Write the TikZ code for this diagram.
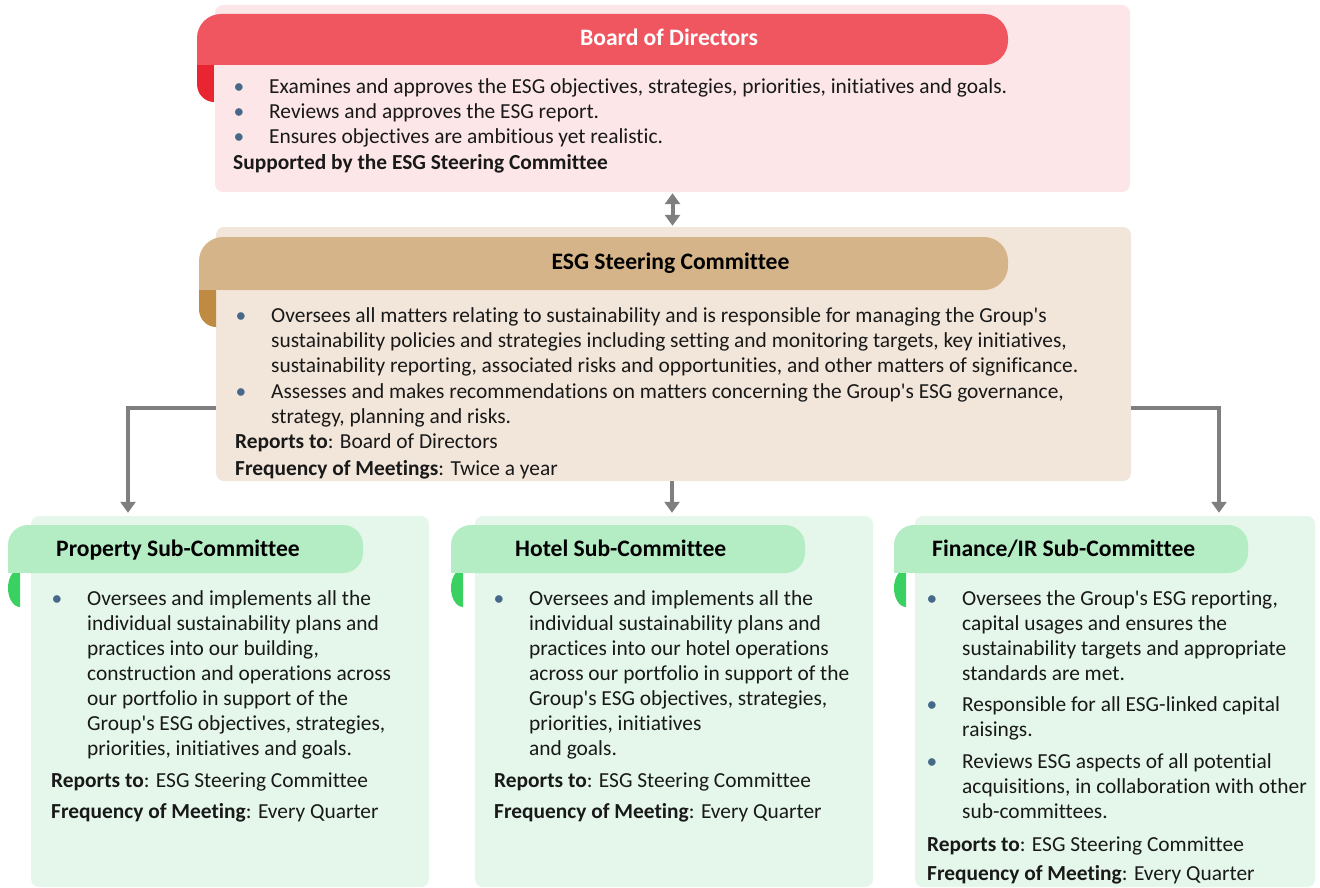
\documentclass[tikz,border=0pt]{standalone}
\usepackage{fontspec}
\setmainfont{Carlito}[Ligatures=NoCommon]
\usetikzlibrary{arrows.meta}

\definecolor{boardbg}{HTML}{FCE6E8}
\definecolor{boardhd}{HTML}{F05660}
\definecolor{boardcurl}{HTML}{E82530}
\definecolor{esgbg}{HTML}{F2E6DA}
\definecolor{esghd}{HTML}{D6B48A}
\definecolor{esgcurl}{HTML}{BF8A42}
\definecolor{subbg}{HTML}{E4F7EA}
\definecolor{subhd}{HTML}{B4ECC4}
\definecolor{subcurl}{HTML}{3AD162}
\definecolor{linkgray}{HTML}{7F7F7F}
\definecolor{dotblue}{HTML}{46698A}

\newcommand{\ap}{\textquotesingle}
\newcommand{\bul}{\llap{\textcolor{dotblue}{\textbullet}\hspace{25pt}}}
\newcommand{\parlines}[1]{\begin{tabular}[t]{@{}l@{}}#1\end{tabular}}

\begin{document}
\begin{tikzpicture}[x=1pt, y=-1pt,
	panel/.style={rounded corners=8pt, inner sep=0pt},
	body/.style={anchor=base west, inner sep=0pt, text=black!90, font=\fontsize{21.4}{25}\selectfont},
	head/.style={inner sep=0pt, font=\bfseries\fontsize{23.6}{25}\selectfont},
	link/.style={draw=linkgray, line width=4pt},
	>={Triangle[width=15pt,length=11pt]}]
	\useasboundingbox (0,0) rectangle (1320,888);

	% panels
	\node[panel, fill=boardbg, minimum width=915pt, minimum height=187pt] (board) at (672.5,98.5) {};
	\node[panel, fill=esgbg, minimum width=915pt, minimum height=254pt] (esg) at (673.5,354) {};
	\node[panel, fill=subbg, minimum width=398pt, minimum height=371pt] (prop) at (230,701.5) {};
	\node[panel, fill=subbg, minimum width=398pt, minimum height=371pt] (hotel) at (674,701.5) {};
	\node[panel, fill=subbg, minimum width=400pt, minimum height=371pt] (fin) at (1115,701.5) {};

	% ribbons
	\fill[boardcurl] (214,50) -- (197,50) -- (197,84) arc[start angle=180, end angle=270, x radius=17pt, y radius=18pt] -- cycle;
	\fill[boardhd, rounded corners=24pt] (197,14) rectangle (1008,65);
	\fill[boardhd] (197,40) rectangle (230,65);
	\fill[esgcurl] (216,270) -- (199,270) -- (199,309) arc[start angle=180, end angle=270, x radius=17pt, y radius=18pt] -- cycle;
	\fill[esghd, rounded corners=24pt] (199,237) rectangle (1008,290);
	\fill[esghd] (199,265) rectangle (230,290);
	\foreach \l/\r in {8/363, 451/805, 894/1248} {
		\fill[subcurl] (\l+12,569) arc[start angle=90, end angle=270, x radius=12pt, y radius=19pt] -- cycle;
		\fill[subhd, rounded corners=20pt] (\l,525) rectangle (\r,573);
		\fill[subhd] (\l,550) rectangle (\l+25,573);
	}

	% titles
	\node[head, anchor=base, text=white] (boardt) at (669,46) {Board of Directors};
	\node[head, anchor=base] (esgt) at (670.5,269) {ESG Steering Committee};
	\node[head, anchor=base west] (propt) at (56,556) {Property Sub-Committee};
	\node[head, anchor=base west] (hotelt) at (515,556) {Hotel Sub-Committee};
	\node[head, anchor=base west] (fint) at (932,556) {Finance/IR Sub-Committee};

	% board of directors
	\node[body] (b1) at (269,94) {\bul Examines and approves the ESG objectives, strategies, priorities, initiatives and goals.};
	\node[body] (b2) at (269,119) {\bul Reviews and approves the ESG report.};
	\node[body] (b3) at (269,144) {\bul Ensures objectives are ambitious yet realistic.};
	\node[body] (bsup) at (233,170) {\textbf{Supported by the ESG Steering Committee}};

	% steering committee
	\node[body] (e1) at (271,322) {\parlines{\bul Oversees all matters relating to sustainability and is responsible for managing the Group\ap s\\
		sustainability policies and strategies including setting and monitoring targets, key initiatives,\\
		sustainability reporting, associated risks and opportunities, and other matters of significance.}};
	\node[body] (e2) at (271,398) {\parlines{\bul Assesses and makes recommendations on matters concerning the Group\ap s ESG governance,\\
		strategy, planning and risks.}};
	\node[body] (erep) at (235,448) {\textbf{Reports to}: Board of Directors};
	\node[body] (efreq) at (235,475) {\textbf{Frequency of Meetings}: Twice a year};

	% property
	\node[body] (p1) at (87,605) {\parlines{\bul Oversees and implements all the\\
		individual sustainability plans and\\
		practices into our building,\\
		construction and operations across\\
		our portfolio in support of the\\
		Group\ap s ESG objectives, strategies,\\
		priorities, initiatives and goals.}};
	\node[body] (prep) at (51,787) {\textbf{Reports to}: ESG Steering Committee};
	\node[body] (pfreq) at (51,818) {\textbf{Frequency of Meeting}: Every Quarter};

	% hotel
	\node[body] (h1) at (529,605) {\parlines{\bul Oversees and implements all the\\
		individual sustainability plans and\\
		practices into our hotel operations\\
		across our portfolio in support of the\\
		Group\ap s ESG objectives, strategies,\\
		priorities, initiatives\\
		and goals.}};
	\node[body] (hrep) at (494,787) {\textbf{Reports to}: ESG Steering Committee};
	\node[body] (hfreq) at (494,818) {\textbf{Frequency of Meeting}: Every Quarter};

	% finance
	\node[body] (f1) at (962,605) {\parlines{\bul Oversees the Group\ap s ESG reporting,\\
		capital usages and ensures the\\
		sustainability targets and appropriate\\
		standards are met.}};
	\node[body] (f2) at (962,711) {\parlines{\bul Responsible for all ESG-linked capital\\
		raisings.}};
	\node[body] (f3) at (962,768) {\parlines{\bul Reviews ESG aspects of all potential\\
		acquisitions, in collaboration with other\\
		sub-committees.}};
	\node[body] (frep) at (927,851) {\textbf{Reports to}: ESG Steering Committee};
	\node[body] (ffreq) at (927,880) {\textbf{Frequency of Meeting}: Every Quarter};

	% links
	\draw[link, <->, shorten <=1pt, shorten >=1pt] (board.south) -- (board.south |- esg.north);
	\draw[link, ->, shorten >=3pt] ([yshift=-54pt]esg.west) -| ([xshift=-102pt]prop.north);
	\draw[link, ->, shorten >=3pt] ([xshift=-1.5pt]esg.south) -- ([xshift=-1.5pt]esg.south |- hotel.north);
	\draw[link, ->, shorten >=3pt] ([yshift=-54pt]esg.east) -| ([xshift=104pt]fin.north);
\end{tikzpicture}
\end{document}
